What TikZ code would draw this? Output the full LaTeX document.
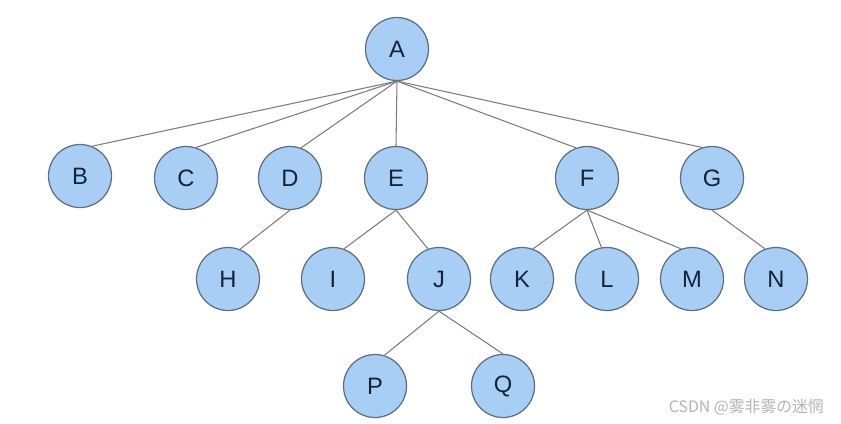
\documentclass[tikz,border=0pt]{standalone}
\usepackage{fontspec}
\setmainfont{Liberation Sans}
\newfontfamily\cjkfont{Noto Sans CJK SC}
\usetikzlibrary{positioning}
\definecolor{trFill}{HTML}{A8CEF6}
\definecolor{trLine}{HTML}{5E6E7E}
\definecolor{trText}{HTML}{14233A}
\definecolor{trEdge}{HTML}{7C7C7C}
\definecolor{trMark}{HTML}{B4B4B4}
\tikzset{
  trnode/.style={circle,draw=trLine,fill=trFill,line width=0.7pt,
                 minimum size=12.6mm,inner sep=0pt,text=trText,
                 font=\fontsize{13.5}{16}\selectfont},
  tredge/.style={draw=trEdge,line width=0.6pt},
  trmark/.style={text=trMark,font=\cjkfont\fontsize{9}{11}\selectfont,anchor=east}
}

\begin{document}
\begin{tikzpicture}[x=0.2mm,y=-0.2mm]
    \useasboundingbox (0,0) rectangle (841,423);

    % root and first level
    \node[trnode] (A) at (397,49) {A};
    \node[trnode] (B) at (80,176) {B};
    \node[trnode] (C) at (186,178) {C};
    \node[trnode] (D) at (290,178) {D};
    \node[trnode] (E) at (396,178) {E};
    \node[trnode] (F) at (587,178) {F};
    \node[trnode] (G) at (712,178) {G};

    % second level
    \node[trnode] (H) at (228,279) {H};
    \node[trnode] (I) at (333,279) {I};
    \node[trnode] (J) at (439,279) {J};
    \node[trnode] (K) at (522,279) {K};
    \node[trnode] (L) at (607,279) {L};
    \node[trnode] (M) at (692,279) {M};
    \node[trnode] (N) at (776,279) {N};

    % third level
    \node[trnode] (P) at (375,386) {P};
    \node[trnode] (Q) at (503,386) {Q};

    % edges end near the top of each child
    \begin{scope}[on background layer/.try]
      \foreach \c/\a in {B/68,C/72,D/70,E/90,F/110,G/108}
        \draw[tredge] (A.south) -- (\c.\a);
      \draw[tredge] (D.south) -- (H.68);
      \foreach \c/\a in {I/70,J/110}
        \draw[tredge] (E.south) -- (\c.\a);
      \foreach \c/\a in {K/70,L/100,M/110}
        \draw[tredge] (F.south) -- (\c.\a);
      \draw[tredge] (G.south) -- (N.110);
      \foreach \c/\a in {P/73,Q/90}
        \draw[tredge] (J.south) -- (\c.\a);
    \end{scope}

    \node[trmark] (mark) at (830,407) {CSDN @雾非雾の迷惘};
\end{tikzpicture}
\end{document}
